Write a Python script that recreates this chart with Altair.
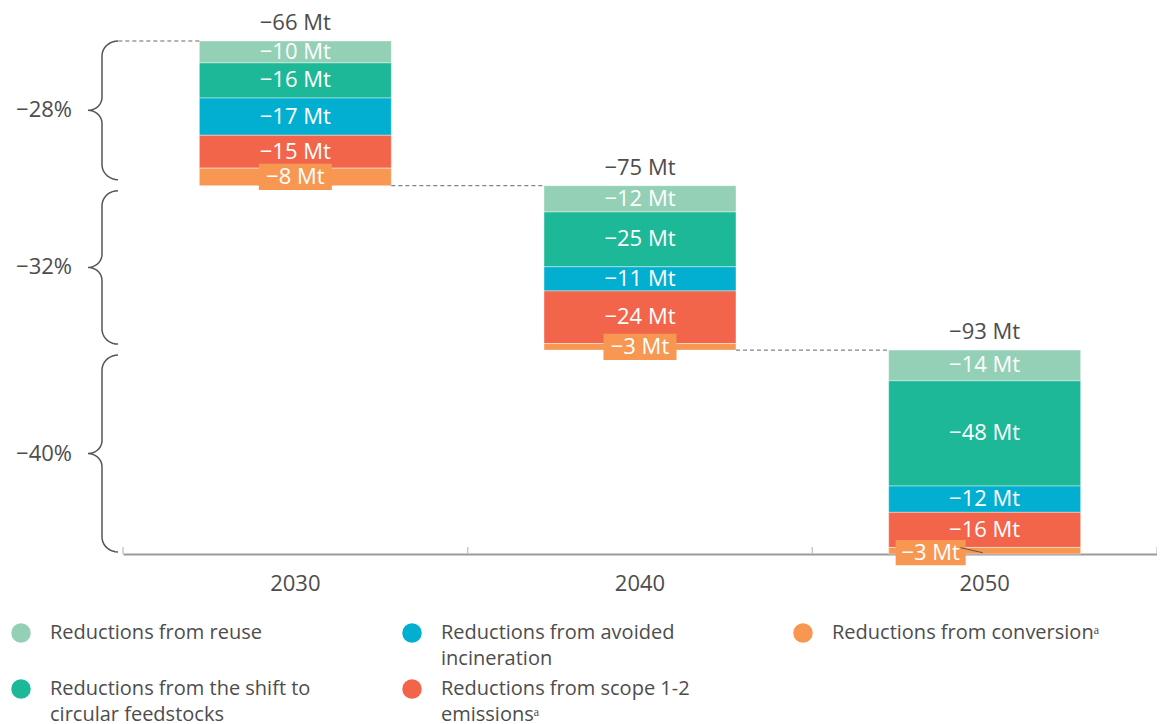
import altair as alt
import pandas as pd
import numpy as np

# ---------------- data ----------------
years = ["2030", "2040", "2050"]
reuse = [10, 12, 14]
shift = [16, 25, 48]
incineration = [17, 11, 12]
scope12 = [15, 24, 16]
conversion = [8, 3, 3]
pct_labels = ["−28%", "−32%", "−40%"]

stack_keys = ["reuse", "shift", "incin", "scope", "conv"]   # top -> bottom in each bar (also legend order)
cat_names = {
    "reuse": "Reductions from reuse",
    "shift": "Reductions from the shift to|circular feedstocks",
    "incin": "Reductions from avoided|incineration",
    "scope": "Reductions from scope 1-2|emissionsᵃ",
    "conv": "Reductions from conversionᵃ",
}
cat_colors = {
    "reuse": "#93D0B5",
    "shift": "#1DB897",
    "incin": "#03AFD1",
    "scope": "#F2654A",
    "conv": "#F79752",
}
series = {"reuse": reuse, "shift": shift, "incin": incineration,
          "scope": scope12, "conv": conversion}

# ---------------- layout constants ----------------
FONT = "Open Sans"
TXT = "#4d4d4d"
W, H = 1034, 513
P_INNER, P_OUTER = 0.443, 0.2215

total = sum(sum(v) for v in series.values())
k = total / H            # data units per pixel
step = W / (len(years) - P_INNER + 2 * P_OUTER)
gap = P_INNER * step / 2   # px between a band edge and the band boundary

# ---------------- tables ----------------
seg_rows, tot_rows = [], []
level = total
ranges = []
for i, yr in enumerate(years):
    top = level
    for key in stack_keys:
        v = series[key][i]
        seg_rows.append(dict(year=yr, key=key, cat=cat_names[key], top=level,
                             bottom=level - v, mid=level - v / 2, label=f"−{v} Mt"))
        level -= v
    tot_rows.append(dict(year=yr, top=top, label=f"−{top - level} Mt"))
    ranges.append((top, level))
seg = pd.DataFrame(seg_rows)
tots = pd.DataFrame(tot_rows)

conn = pd.DataFrame([dict(y0=years[i], y1=years[i + 1], v=ranges[i][1])
                     for i in range(len(years) - 1)])
top_conn = pd.DataFrame([dict(year=years[0], v=ranges[0][0])])
ticks_df = pd.DataFrame(dict(year=years))

# braces (x in pixels relative to plot left, y in data units)
brace_rows, brace_mid = [], []
for i, (t, b) in enumerate(ranges):
    t_in = t - (0 if i == 0 else 5 * k)
    b_in = b + (2 * k if i == len(ranges) - 1 else 6 * k)
    m = (t_in + b_in) / 2
    brace_mid.append(dict(mid=m, label=pct_labels[i]))
    pts = []
    rxe, rye, rxm, rym = 16, 15, 14, 13
    ang = np.linspace(0, np.pi / 2, 10)
    for a in ang:
        pts.append((-5 - rxe * np.sin(a), t_in - rye * (1 - np.cos(a)) * k))
    for a in ang:
        pts.append((-35 + rxm * np.cos(a), m + rym * k - rym * np.sin(a) * k))
    for a in ang[::-1][1:]:
        pts.append((-35 + rxm * np.cos(a), m - rym * k + rym * np.sin(a) * k))
    for a in ang[::-1]:
        pts.append((-5 - rxe * np.sin(a), b_in + rye * (1 - np.cos(a)) * k))
    for j, (px, py) in enumerate(pts):
        brace_rows.append(dict(b=i, o=j, bx=px, by=py))
braces = pd.DataFrame(brace_rows)
bmid = pd.DataFrame(brace_mid)

# ---------------- scales ----------------
xscale = alt.Scale(type="band", domain=years, paddingInner=P_INNER, paddingOuter=P_OUTER)
yscale = alt.Scale(domain=[0, total], nice=False, zero=False)
Y = lambda f: alt.Y(f"{f}:Q", scale=yscale, axis=None)

color = alt.Color(
    "cat:N",
    scale=alt.Scale(domain=[cat_names[k_] for k_ in stack_keys],
                    range=[cat_colors[k_] for k_ in stack_keys]),
    legend=alt.Legend(
        title=None, orient="none", legendX=-112, legendY=582,
        columns=3, gridAlign="all", columnPadding=84, rowPadding=10,
        symbolType="circle", symbolSize=380, symbolStrokeWidth=0, symbolOpacity=1,
        labelFont=FONT, labelFontSize=20, labelColor=TXT, labelOffset=19,
        labelLimit=600,
        labelExpr="split(indexof(datum.label, '|') < 0 ? datum.label + '|' : datum.label, '|')",
        padding=0,
    ),
)

xaxis = alt.Axis(title=None, labelAngle=0, labelFont=FONT, labelFontSize=22,
                 labelColor=TXT, labelPadding=19, ticks=False, tickSize=0,
                 domainColor="#9a9a9a", domainWidth=2, grid=False,
                 bandPosition=0.5, labelAlign="center")

base = alt.Chart(seg)

bars = base.mark_bar(stroke="white", strokeWidth=0.8, strokeOpacity=0.5).encode(
    x=alt.X("year:N", scale=xscale, axis=xaxis),
    y=Y("top"), y2="bottom", color=color,
)

# small upward ticks at band boundaries
tick_style = dict(color="#c8c8c8", strokeWidth=1.5)
ticks_left = alt.Chart(ticks_df).mark_rule(xOffset=-gap, **tick_style).encode(
    x=alt.X("year:N", scale=xscale, bandPosition=0),
    y=alt.value(H - 7), y2=alt.value(H),
)
ticks_right = alt.Chart(ticks_df.tail(1)).mark_rule(xOffset=gap, **tick_style).encode(
    x=alt.X("year:N", scale=xscale, bandPosition=1),
    y=alt.value(H - 7), y2=alt.value(H),
)

BOX = "M-1,-0.36L1,-0.36L1,0.36L-1,0.36Z"
is_conv = "datum.key == 'conv'"
shifted = "datum.key == 'conv' && datum.year == '2050'"

boxes = base.transform_filter(is_conv + " && datum.year != '2050'").mark_point(
    shape=BOX, size=73 * 73, filled=True, opacity=1, color=cat_colors["conv"]
).encode(x=alt.X("year:N", scale=xscale), y=Y("mid"))

boxes2 = base.transform_filter(shifted).mark_point(
    shape=BOX, size=70 * 70, filled=True, opacity=1, color=cat_colors["conv"], xOffset=-54, yOffset=2
).encode(x=alt.X("year:N", scale=xscale), y=Y("mid"))

leader = base.transform_filter(shifted).mark_rule(
    color="#555555", strokeWidth=1, xOffset=-24, x2Offset=-2, yOffset=-3, y2Offset=2
).encode(x=alt.X("year:N", scale=xscale, bandPosition=0.5),
         x2=alt.X2("year:N", bandPosition=0.5), y=Y("mid"), y2="mid")

seg_text = base.transform_filter("!(" + shifted + ")").mark_text(
    font=FONT, fontSize=22, color="white", baseline="middle"
).encode(x=alt.X("year:N", scale=xscale), y=Y("mid"), text="label:N")

seg_text2 = base.transform_filter(shifted).mark_text(
    font=FONT, fontSize=22, color="white", baseline="middle", xOffset=-54, yOffset=2
).encode(x=alt.X("year:N", scale=xscale), y=Y("mid"), text="label:N")

tot_text = alt.Chart(tots).mark_text(
    font=FONT, fontSize=22, color=TXT, baseline="middle", dy=-18
).encode(x=alt.X("year:N", scale=xscale), y=Y("top"), text="label:N")

conn_rules = alt.Chart(conn).mark_rule(color="#666666", strokeDash=[4, 3], strokeWidth=1).encode(
    x=alt.X("y0:N", scale=xscale, bandPosition=1),
    x2=alt.X2("y1:N", bandPosition=0),
    y=Y("v"),
)

top_rule = alt.Chart(top_conn).mark_rule(color="#666666", strokeDash=[4, 3], strokeWidth=1).encode(
    x=alt.X("year:N", scale=xscale, bandPosition=0),
    x2=alt.value(-5),
    y=Y("v"),
)

main = alt.layer(bars, ticks_left, ticks_right, conn_rules, top_rule, boxes, boxes2,
                 leader, seg_text, seg_text2, tot_text)

brace_lines = alt.Chart(braces).mark_line(color="#555555", strokeWidth=1.5).encode(
    x=alt.X("bx:Q", scale=alt.Scale(domain=[0, W], nice=False, zero=False), axis=None),
    y=Y("by"),
    detail="b:N",
    order="o:Q",
)
pct_text = alt.Chart(bmid).mark_text(
    font=FONT, fontSize=22, color=TXT, align="right", baseline="middle"
).encode(x=alt.value(-51), y=Y("mid"), text="label:N")

chart = alt.layer(main, brace_lines, pct_text).resolve_scale(x="independent").properties(
    width=W, height=H,
    padding={"left": 115, "top": 33, "right": 0, "bottom": 168},
    autosize=alt.AutoSizeParams(type="none"),
).configure(
    view=alt.ViewConfig(stroke="transparent"),
    style={"guide-label": {"lineHeight": 26}},
)

chart.save("out.html", embed_options={"renderer": "svg", "actions": False})
